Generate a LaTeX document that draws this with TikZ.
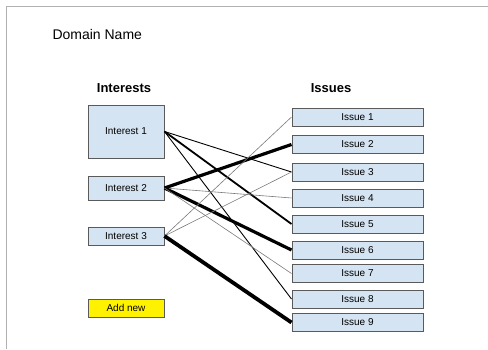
\documentclass[tikz,border=0pt]{standalone}
\usepackage{fontspec}
\setmainfont{Liberation Sans}
\definecolor{boxfill}{HTML}{D5E4F2}
\definecolor{boxline}{HTML}{5A5A5A}
\definecolor{framegray}{HTML}{B0B0B0}
\definecolor{thingray}{HTML}{7A7A7A}
\begin{document}
\begin{tikzpicture}[x=1pt,y=-1pt,
  box/.style={draw=boxline,line width=1pt,fill=boxfill,inner sep=0pt,
    font=\fontsize{10}{12}\selectfont},
  intbox/.style={box,minimum width=76pt},
  issbox/.style={box,minimum width=131pt,minimum height=18pt},
  heading/.style={font=\fontsize{13}{15}\selectfont\bfseries},
  link/.style={line width=#1},
  faint/.style={draw=thingray,line width=0.6pt}]
\useasboundingbox (0,0) rectangle (488,349);
% page frame
\draw[framegray,line width=1pt] (6,349) -- (6,6) -- (488,6);

\node[anchor=west,font=\fontsize{14}{16}\selectfont] (title) at (49,34) {Domain Name};
\node[heading] (hint) at (124,88) {Interests};
\node[heading] (hiss) at (331,88) {Issues};

% interests
\node[intbox,minimum height=53pt] (i1) at (126,131.5) {Interest 1};
\node[intbox,minimum height=24pt] (i2) at (126,188) {Interest 2};
\node[intbox,minimum height=18pt] (i3) at (126,236) {Interest 3};
\node[box,fill=yellow,minimum width=76pt,minimum height=18pt] (add) at (126,308) {Add new};

% issues
\foreach \n/\y in {1/117,2/144.5,3/172,4/198,5/224,6/250,7/273.5,8/299,9/322.5}
  \node[issbox] (s\n) at (357.5,\y) {Issue \n};

% links
\draw[link=0.9pt] (i1.east) -- (s3.west);
\draw[link=1.8pt] (i1.east) -- (s5.west);
\draw[link=0.9pt] (i1.east) -- (s8.west);
\draw[link=3.2pt] (i2.east) -- (s2.west);
\draw[faint] (i2.east) -- (s4.west);
\draw[link=3.2pt] (i2.east) -- (s6.west);
\draw[faint] (i2.east) -- (s7.west);
\draw[faint] (i3.east) -- (s1.west);
\draw[faint] (i3.east) -- (s3.west);
\draw[link=3.8pt] (i3.east) -- (s9.west);
\end{tikzpicture}
\end{document}
